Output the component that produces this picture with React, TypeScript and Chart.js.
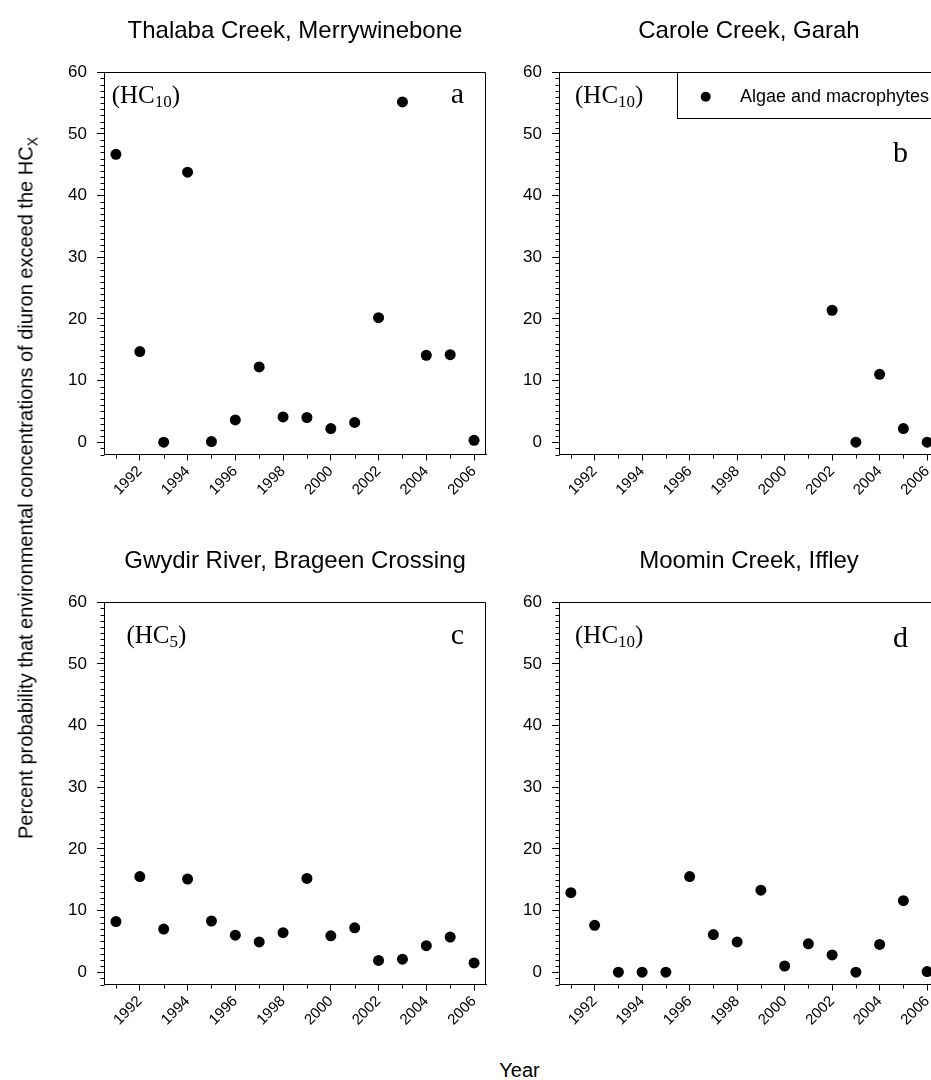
import React, { useEffect, useRef } from "react";
import { Chart, registerables } from "chart.js";
Chart.register(...registerables);

const SANS = '"Liberation Sans", Arial, sans-serif';
const SERIF = '"Liberation Serif", "Times New Roman", serif';

// ---- data ----
const YEARS = [1991, 1992, 1993, 1994, 1995, 1996, 1997, 1998, 1999, 2000, 2001, 2002, 2003, 2004, 2005, 2006];
const THALABA_VALUES = [46.7, 14.7, 0, 43.8, 0.1, 3.6, 12.2, 4.1, 4.0, 2.2, 3.2, 20.2, 55.2, 14.1, 14.2, 0.3];
const CAROLE_YEARS = [2002, 2003, 2004, 2005, 2006];
const CAROLE_VALUES = [21.4, 0, 11.0, 2.2, 0];
const GWYDIR_VALUES = [8.2, 15.5, 7.0, 15.1, 8.3, 6.0, 4.9, 6.4, 15.2, 5.9, 7.2, 1.9, 2.1, 4.3, 5.7, 1.5];
const MOOMIN_VALUES = [12.9, 7.6, 0, 0, 0, 15.5, 6.1, 4.9, 13.3, 1.0, 4.6, 2.8, 0, 4.5, 11.6, 0.1];

const X_TICKS = [1992, 1994, 1996, 1998, 2000, 2002, 2004, 2006];
const X_MINOR_TICKS = [1991, 1993, 1995, 1997, 1999, 2001, 2003, 2005];
const Y_TICKS = [0, 10, 20, 30, 40, 50, 60];

const TITLES = [
  "Thalaba Creek, Merrywinebone",
  "Carole Creek, Garah",
  "Gwydir River, Brageen Crossing",
  "Moomin Creek, Iffley",
];
const HC_SUBS = ["10", "10", "5", "10"];
const LETTERS = ["a", "b", "c", "d"];
const LEGEND_LABEL = "Algae and macrophytes";
const Y_TITLE = "Percent probability that environmental concentrations of diuron exceed the HC";
const Y_TITLE_SUB = "X";
const X_TITLE = "Year";

const X_MIN = 1990.5;
const X_MAX = 2006.5;
const Y_MIN = -2;
const Y_MAX = 60;

// ---- decoration plugin ----
const decorPlugin = {
  id: "decor",
  afterDraw(chart: any, _args: any, opts: any) {
    const { ctx, chartArea: a, scales } = chart;
    const xs = scales.x;
    const ys = scales.y;
    const L = Math.round(a.left) + 0.5;
    const R = Math.round(a.right) - 0.5;
    const T = Math.round(a.top) + 0.5;
    const B = Math.round(a.bottom) - 0.5;
    ctx.save();
    ctx.strokeStyle = "#000";
    ctx.lineWidth = 1;
    ctx.beginPath();
    ctx.moveTo(L, T);
    ctx.lineTo(R, T);
    ctx.lineTo(R, B);
    ctx.stroke();
    // minor y ticks
    ctx.beginPath();
    for (let v = Y_MIN; v <= Y_MAX; v++) {
      if (v % 10 === 0) continue;
      const py = Math.round(ys.getPixelForValue(v)) + 0.5;
      ctx.moveTo(L - 4, py);
      ctx.lineTo(L, py);
    }
    // minor x ticks
    for (const v of X_MINOR_TICKS) {
      const px = Math.round(xs.getPixelForValue(v)) + 0.5;
      ctx.moveTo(px, B);
      ctx.lineTo(px, B + 4);
    }
    ctx.stroke();

    ctx.fillStyle = "#000";
    ctx.textBaseline = "alphabetic";
    ctx.textAlign = "left";
    // (HCxx)
    const hx = a.left + opts.hcDx;
    const hy = a.top + opts.hcDy;
    ctx.font = `25px ${SERIF}`;
    ctx.fillText("(HC", hx, hy);
    const w1 = ctx.measureText("(HC").width;
    ctx.font = `17px ${SERIF}`;
    ctx.fillText(opts.sub, hx + w1, hy + 4);
    const w2 = ctx.measureText(opts.sub).width;
    ctx.font = `25px ${SERIF}`;
    ctx.fillText(")", hx + w1 + w2, hy);
    // panel letter
    ctx.font = `30px ${SERIF}`;
    ctx.fillText(opts.letter, a.right - opts.letterDx, a.top + opts.letterDy);

    if (opts.legend) {
      const bx = Math.round(a.left + 117.7) + 0.5;
      const bh = 46;
      ctx.strokeRect(bx, T, R - bx + 20, bh);
      ctx.beginPath();
      ctx.arc(a.left + 146.7, a.top + 24.4, 5, 0, Math.PI * 2);
      ctx.fill();
      ctx.font = `18px ${SANS}`;
      ctx.textBaseline = "middle";
      ctx.fillText(LEGEND_LABEL, a.left + 181, a.top + 24.4);
    }
    ctx.restore();
  },
};

type PanelProps = {
  left: number;
  top: number;
  xs: number[];
  ys: number[];
  padRight: number;
  decor: any;
};

const CW = 490;
const CH = 510;

function Panel({ left, top, xs, ys, padRight, decor }: PanelProps) {
  const ref = useRef<HTMLCanvasElement>(null);
  useEffect(() => {
    const chart = new Chart(ref.current as HTMLCanvasElement, {
      type: "scatter",
      data: {
        datasets: [
          {
            label: LEGEND_LABEL,
            data: xs.map((x, i) => ({ x, y: ys[i] })),
            backgroundColor: "#000",
            borderColor: "#000",
            pointRadius: 5.5,
            pointBorderWidth: 0,
            pointHoverRadius: 5.5,
          },
        ],
      },
      options: {
        responsive: false,
        animation: false,
        events: [],
        layout: { padding: { top: 64.3, right: padRight, left: 0, bottom: 0 } },
        plugins: {
          legend: { display: false },
          tooltip: { enabled: false },
          title: { display: false },
          decor,
        } as any,
        scales: {
          x: {
            type: "linear",
            min: X_MIN,
            max: X_MAX,
            afterBuildTicks: (s: any) => {
              s.ticks = X_TICKS.map((v) => ({ value: v }));
            },
            afterFit: (s: any) => {
              s.height = 63.5;
              s.paddingLeft = 0;
              s.paddingRight = 0;
            },
            grid: { drawOnChartArea: false, drawTicks: true, tickLength: 6, color: "#000", lineWidth: 1 },
            border: { display: true, color: "#000", width: 1 },
            ticks: {
              autoSkip: false,
              minRotation: 45,
              maxRotation: 45,
              padding: 2,
              color: "#000",
              font: { family: SANS, size: 15 },
              callback: (v: any) => String(v),
            },
          },
          y: {
            type: "linear",
            min: Y_MIN,
            max: Y_MAX,
            afterBuildTicks: (s: any) => {
              s.ticks = Y_TICKS.map((v) => ({ value: v }));
            },
            afterFit: (s: any) => {
              s.width = 96;
              s.paddingTop = 0;
              s.paddingBottom = 0;
            },
            grid: { drawOnChartArea: false, drawTicks: true, tickLength: 7, color: "#000", lineWidth: 1 },
            border: { display: true, color: "#000", width: 1 },
            ticks: {
              padding: 10,
              color: "#000",
              font: { family: SANS, size: 17 },
              callback: (v: any) => String(v),
            },
          },
        },
      },
      plugins: [decorPlugin as any],
    });
    return () => chart.destroy();
  }, []);
  return (
    <canvas
      ref={ref}
      width={CW}
      height={CH}
      style={{ position: "absolute", left, top, width: CW, height: CH }}
    />
  );
}

function Title({ text, cx, cy }: { text: string; cx: number; cy: number }) {
  return (
    <div
      style={{
        position: "absolute",
        left: cx,
        top: cy,
        transform: "translate(-50%, -50%)",
        whiteSpace: "nowrap",
        fontFamily: SANS,
        fontSize: 24,
        lineHeight: "24px",
        color: "#000",
        zIndex: 2,
      }}
    >
      {text}
    </div>
  );
}

export default function App() {
  return (
    <div
      style={{
        position: "fixed",
        left: 0,
        top: 0,
        width: 931,
        height: 1080,
        overflow: "hidden",
        background: "#fff",
      }}
    >
      <Panel
        left={8}
        top={8}
        xs={YEARS}
        ys={THALABA_VALUES}
        padRight={12}
        decor={{ sub: HC_SUBS[0], letter: LETTERS[0], hcDx: 7.7, hcDy: 31, letterDx: 35.3, letterDy: 30.4, legend: false }}
      />
      <Panel
        left={463}
        top={8}
        xs={CAROLE_YEARS}
        ys={CAROLE_VALUES}
        padRight={14}
        decor={{ sub: HC_SUBS[1], letter: LETTERS[1], hcDx: 16, hcDy: 31, letterDx: 46, letterDy: 89.4, legend: true }}
      />
      <Panel
        left={8}
        top={538}
        xs={YEARS}
        ys={GWYDIR_VALUES}
        padRight={12}
        decor={{ sub: HC_SUBS[2], letter: LETTERS[2], hcDx: 22.4, hcDy: 41, letterDx: 35.3, letterDy: 42, legend: false }}
      />
      <Panel
        left={463}
        top={538}
        xs={YEARS}
        ys={MOOMIN_VALUES}
        padRight={14}
        decor={{ sub: HC_SUBS[3], letter: LETTERS[3], hcDx: 16, hcDy: 41, letterDx: 46, letterDy: 44.5, legend: false }}
      />
      <Title text={TITLES[0]} cx={295} cy={30} />
      <Title text={TITLES[1]} cx={749} cy={30} />
      <Title text={TITLES[2]} cx={295} cy={560} />
      <Title text={TITLES[3]} cx={749} cy={560} />
      <div
        style={{
          position: "absolute",
          left: 29,
          top: 488,
          transform: "translate(-50%, -50%) rotate(-90deg)",
          whiteSpace: "nowrap",
          fontFamily: SANS,
          fontSize: 20,
          lineHeight: "20px",
          color: "#000",
        }}
      >
        {Y_TITLE}
        <sub style={{ fontSize: 14 }}>{Y_TITLE_SUB}</sub>
      </div>
      <div
        style={{
          position: "absolute",
          left: 519.5,
          top: 1070,
          transform: "translate(-50%, -50%)",
          whiteSpace: "nowrap",
          fontFamily: SANS,
          fontSize: 20,
          lineHeight: "20px",
          color: "#000",
        }}
      >
        {X_TITLE}
      </div>
    </div>
  );
}
